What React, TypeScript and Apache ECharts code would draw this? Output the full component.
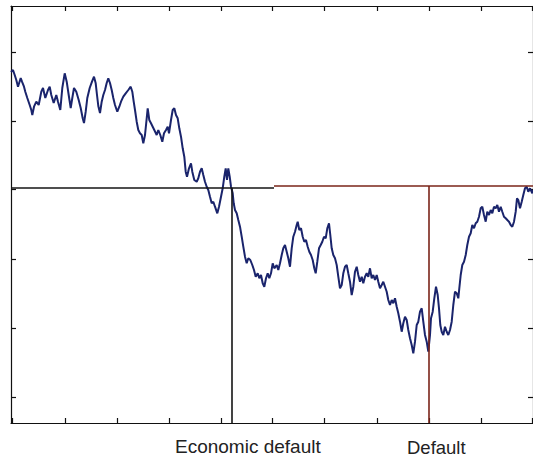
import React, { useEffect, useRef } from "react";
import * as echarts from "echarts";

// Time (horizontal units) and asset value relative to the default barrier (0)
const timeSteps: number[] = [
  0, 2, 3.7, 5.3, 7, 9.7, 11, 13, 14.3, 16.3, 18.7, 20.3, 21.3, 23, 25.3, 27.7, 30.3, 32, 34.3, 37,
  38.7, 40.3, 42.7, 45.3, 47, 49.3, 51.3, 53.7, 55.7, 57.7, 59.7, 61.3, 63, 65.3, 67.7, 69.7, 71.7, 73, 74.7, 76.3,
  78.7, 81, 83, 84.7, 86, 87.3, 89, 90.7, 92.3, 94, 95.7, 97.3, 99, 100.7, 102.3, 104, 106.3, 108.3, 110, 112.3,
  114.7, 117.3, 119.7, 121.3, 122.7, 124, 125.7, 127.3, 129, 130.7, 132.3, 134, 135.7, 136.7, 138.3, 140, 141.7, 143.3, 145.7, 147.3,
  149.3, 151.3, 153, 155, 156.7, 158, 160, 161.7, 163.3, 165, 166.7, 168.3, 170, 171.7, 173.3, 174.7, 176, 178, 180, 181.3,
  183.3, 185.7, 187.3, 189, 190.7, 192.3, 194, 195.7, 197.3, 199, 200.7, 202.3, 204, 206.3, 208, 210, 211.7, 213.3, 214.7, 216,
  217.3, 218.7, 220, 221.7, 222.7, 224, 225.7, 227.3, 229, 230.7, 232.3, 234, 235.7, 237.3, 239.3, 241.3, 243, 244.7, 246.7, 248.3,
  250, 251.7, 253.3, 255, 256.7, 258.3, 260, 261.7, 263.3, 265.7, 267.3, 269, 270.7, 272.3, 274, 275.7, 277.3, 279, 280.7, 282.3,
  284, 285.7, 286.7, 288.3, 290, 291.7, 293.3, 295, 296.7, 298.3, 300, 301.7, 303.3, 304.7, 306.3, 308, 309.7, 311.3, 313, 314.7,
  316.3, 318, 319.3, 320.7, 322.3, 324, 325.7, 327.3, 329, 330.7, 332.3, 334, 335.7, 337.3, 339, 340.7, 342.3, 344, 345.7, 347.3,
  349, 350.7, 352.3, 354, 355.7, 357.3, 359, 360.7, 362.3, 364, 365.7, 367.3, 369, 370.7, 372.3, 374, 375.7, 377.3, 379, 380.7,
  382.3, 384, 385.7, 387.3, 389, 390.7, 392.3, 394, 395.7, 397.3, 399, 400.7, 402.3, 404, 405.7, 407.3, 409, 410.7, 412.3, 414,
  415.7, 417.3, 419, 420, 421.7, 423.3, 425, 426.7, 428, 429.3, 430.7, 432.3, 434, 435.7, 437.3, 439, 440.7, 442.3, 444, 445.7,
  447.3, 448.3, 449.7, 451.3, 453, 454.7, 456.3, 458, 459.7, 461.3, 463, 464.7, 466.3, 468, 469.7, 471.3, 473, 474.7, 476.3, 478,
  479.7, 481.3, 483, 484.7, 486.3, 488, 489.7, 491.3, 493, 494.7, 496.3, 498, 499.7, 501.3, 503, 504.7, 506, 507.3, 509, 510.7,
  512.3, 514, 515.7, 517.3, 519, 521.3, 522,
];

const assetValues: number[] = [
  117, 119, 114, 109, 102.3, 111, 107.3, 102.3, 97.3, 91, 84, 79, 74, 82.3, 87.3, 84, 97.3, 101, 91, 99,
  102.3, 94, 86, 94, 87.3, 79, 101, 115.7, 107.3, 94, 81, 91, 101, 97.3, 89, 81, 70.7, 66, 77.3, 91,
  101, 107.3, 112.3, 105.7, 94, 83, 76, 87.3, 94, 99, 106, 110.7, 106, 99, 91, 84, 77.3, 82.3, 87.3, 92.3,
  95.7, 99, 102.3, 97.3, 87.3, 79, 67.3, 59, 55.7, 54, 45.7, 54, 70.7, 80.7, 69, 65.7, 62.3, 59, 54, 59,
  54, 47.3, 55.7, 59, 62.3, 55.7, 69, 79, 80.7, 74, 70.7, 60.7, 52.3, 40.7, 32.3, 17.3, 12.3, 20.7, 25.7, 17.3,
  9, 7.3, 10.7, 17.3, 20.7, 14, 7.3, 2.3, -1, -7.7, -14.3, -12.7, -17.7, -24.3, -17.7, -7.7, 0.7, 12.3, 20.7, 9,
  20.7, 12.3, 2.3, -4.3, -14.3, -21, -24.3, -31, -37.7, -47.7, -57.7, -67.7, -74.3, -69.3, -71, -76, -81, -87.7, -84.3, -89.3,
  -86, -94.3, -97.7, -89.3, -84.3, -89.3, -84.3, -74.3, -79.3, -76, -81, -74.3, -66, -59.3, -56, -62.7, -69.3, -77.7, -59.3, -47.7,
  -42.7, -36, -32.7, -41, -39.3, -47.7, -52.7, -51, -57.7, -62.7, -66, -71, -79.3, -84.3, -72.7, -59.3, -56, -52.7, -47.7, -49.3,
  -39.3, -34.3, -46, -59.3, -66, -69.3, -76, -87.7, -99.3, -96, -84.3, -77.7, -76, -84.3, -92.7, -106, -97.7, -82.7, -77.7, -86,
  -92.7, -87.7, -94.3, -87.7, -84.3, -87.7, -79.3, -89.3, -86, -91, -86, -92.7, -99.3, -96, -92.7, -97.7, -102.7, -111, -116, -111,
  -114.3, -109.3, -117.7, -124.3, -132.7, -142.7, -134.3, -127.7, -131, -141, -149.3, -156, -164.3, -152.7, -136, -132.7, -122.7, -119.3, -132.7, -146,
  -152.7, -162.7, -146, -129.3, -122.7, -109.3, -97.7, -106, -119.3, -136, -142.7, -146, -137.7, -142.7, -146, -141, -132.7, -116, -102.7, -104.3,
  -109.3, -99.3, -86, -76, -72.7, -66, -56, -47.7, -44.3, -36, -39.3, -34.3, -32.7, -27.7, -19.3, -17.7, -26, -32.7, -22.7, -26,
  -21, -24.3, -17.7, -19.3, -16, -22.7, -17.7, -22.7, -27.7, -29.3, -31, -32.7, -36, -37.7, -32.7, -22.7, -9.3, -11, -19.3, -12.7,
  -6, 0.7, 2.3, -2.7, 0.7, -4.3, -1,
];

// Reference levels and event times
const barrierLevelBefore = 1;
const barrierLevelAfter = 3;
const barrierSwitchTime = 263;
const economicDefaultTime = 221;
const defaultTime = 418;

const xMin = 0;
const xMax = 522;
const yMin = -234;
const yMax = 183;
const xTickValues = [1, 54, 106, 158, 210, 261, 313, 366, 418, 470, 521];
const yTickValues = [-208, -139, -70, 0, 68, 137];

const eventLabels = ["Economic default", "Default"];

export default function App() {
  const ref = useRef<HTMLDivElement>(null);
  useEffect(() => {
    if (!ref.current) return;
    const chart = echarts.init(ref.current, undefined, { renderer: "svg" });
    const pathData = timeSteps.map((t, i) => [t, assetValues[i]]);
    const axisCommon = {
      type: "value" as const,
      axisLine: { show: true, onZero: false, lineStyle: { color: "#111", width: 1.2 } },
      axisLabel: { show: false },
      splitLine: { show: false },
    };
    const xAx = (pos: string) => ({
      ...axisCommon,
      position: pos,
      min: xMin,
      max: xMax,
      axisTick: { show: true, inside: true, length: 5, customValues: xTickValues, lineStyle: { color: "#111", width: 1.2 } },
    });
    const yAx = (pos: string) => ({
      ...axisCommon,
      position: pos,
      min: yMin,
      max: yMax,
      axisTick: { show: true, inside: true, length: 5, customValues: yTickValues, lineStyle: { color: "#111", width: 1.2 } },
    });
    const refLine = (data: number[][], color: string) => ({
      type: "line",
      data,
      symbol: "none",
      silent: true,
      lineStyle: { color, width: 1.6 },
      z: 3,
    });
    chart.setOption({
      animation: false,
      backgroundColor: "#ffffff",
      grid: { left: 11, right: 0, top: 6, bottom: 34 },
      xAxis: [xAx("bottom"), xAx("top")],
      yAxis: [yAx("left"), yAx("right")],
      series: [
        {
          type: "line",
          data: pathData,
          symbol: "none",
          lineStyle: { color: "#1a246c", width: 2 },
          z: 2,
        },
        refLine([[xMin, barrierLevelBefore], [barrierSwitchTime, barrierLevelBefore]], "#151515"),
        refLine([[barrierSwitchTime, barrierLevelAfter], [xMax, barrierLevelAfter]], "#7a2418"),
        refLine([[economicDefaultTime, barrierLevelBefore], [economicDefaultTime, yMin]], "#151515"),
        refLine([[defaultTime, barrierLevelAfter], [defaultTime, yMin]], "#7a2418"),
      ],
      graphic: [
        {
          type: "text",
          left: 175,
          top: 437,
          style: { text: eventLabels[0], fontSize: 19, fontFamily: "Liberation Sans, Arial, sans-serif", fill: "#222" },
        },
        {
          type: "text",
          left: 407,
          top: 438,
          style: { text: eventLabels[1], fontSize: 18.5, fontFamily: "Liberation Sans, Arial, sans-serif", fill: "#222" },
        },
      ],
    });
    return () => chart.dispose();
  }, []);
  return <div ref={ref} style={{ position: "absolute", left: 0, top: 0, width: 533, height: 457 }} />;
}
